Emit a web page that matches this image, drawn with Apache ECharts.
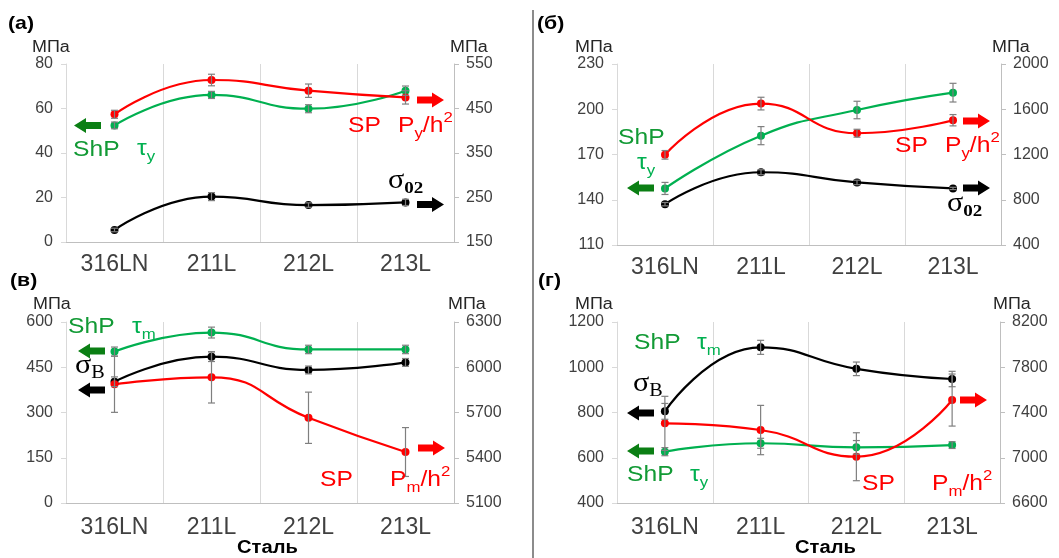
<!DOCTYPE html>
<html>
<head>
<meta charset="utf-8">
<script src="https://cdn.jsdelivr.net/npm/echarts@6/dist/echarts.min.js"></script>
<style>
  html, body { margin: 0; padding: 0; background: #fff; }
  #chart { width: 1059px; height: 558px; }
</style>
</head>
<body>
<div id="chart"></div>
<script>
// categories
const cats = ['316LN', '211L', '212L', '213L'];

// (а)  ShP tau_y (left), SP Py/h2 (right), sigma02 (right)
const tauY_a = [52.4, 66.1, 59.9, 68.0];
const tauY_a_err = [1.5, 1.6, 1.8, 2.1];
const pyH2_a = [437, 514, 490, 475];
const pyH2_a_err = [9, 13, 15, 15];
const sig02_a = [177, 252, 233, 239];
const sig02_a_err = [4, 9, 5, 7];
const ticksL_a = [0, 20, 40, 60, 80];
const ticksR_a = [150, 250, 350, 450, 550];

// (б)
const tauY_b = [147.5, 182.5, 199.5, 211];
const tauY_b_err = [4, 6, 5.8, 6.2];
const pyH2_b = [1197, 1650, 1388, 1503];
const pyH2_b_err = [38, 56, 35, 50];
const sig02_b = [761, 1043, 953, 900];
const sig02_b_err = [15, 22, 20, 10];
const ticksL_b = [110, 140, 170, 200, 230];
const ticksR_b = [400, 800, 1200, 1600, 2000];

// (в)  ShP tau_m (left), sigmaB (left), SP Pm/h2 (right)
const tauM_v = [502, 565, 509, 509];
const tauM_v_err = [15, 18, 14, 14];
const sigB_v = [402, 485, 441, 466];
const sigB_v_err = [16, 16, 13, 13];
const pmH2_v = [5887, 5933, 5665, 5438];
const pmH2_v_err = [186, 170, 170, 162];
const ticksL_v = [0, 150, 300, 450, 600];
const ticksR_v = [5100, 5400, 5700, 6000, 6300];

// (г)  sigmaB (left), ShP tau_y (left), SP Pm/h2 (right)
const sigB_g = [805, 1088, 993, 948];
const sigB_g_err = [35, 31, 30, 34];
const tauY_g = [627, 664, 646, 656];
const tauY_g_err = [18, 22, 30, 15];
const pmH2_g = [7304, 7245, 7009, 7510];
const pmH2_g_err = [239, 218, 212, 230];
const ticksL_g = [400, 600, 800, 1000, 1200];
const ticksR_g = [6600, 7000, 7400, 7800, 8200];

const GREEN = '#00b050', RED = '#ff0000', BLACK = '#000000';
const SHP = '#129a35', ARR_G = '#0b7f14';
const SANS = '"Liberation Sans", Arial, sans-serif';
const SERIF = '"Liberation Serif", "Times New Roman", serif';
const TXT = '#404040';

const panels = [
  { grid: { left: 66, top: 64, width: 388, height: 178 }, tl: ticksL_a, tr: ticksR_a,
    lines: [[tauY_a, tauY_a_err, 0, GREEN], [pyH2_a, pyH2_a_err, 1, RED], [sig02_a, sig02_a_err, 1, BLACK]] },
  { grid: { left: 617, top: 64, width: 384, height: 181 }, tl: ticksL_b, tr: ticksR_b,
    lines: [[tauY_b, tauY_b_err, 0, GREEN], [pyH2_b, pyH2_b_err, 1, RED], [sig02_b, sig02_b_err, 1, BLACK]] },
  { grid: { left: 66, top: 322, width: 388, height: 181 }, tl: ticksL_v, tr: ticksR_v,
    lines: [[tauM_v, tauM_v_err, 0, GREEN], [sigB_v, sigB_v_err, 0, BLACK], [pmH2_v, pmH2_v_err, 1, RED]] },
  { grid: { left: 617, top: 322, width: 383, height: 181 }, tl: ticksL_g, tr: ticksR_g,
    lines: [[sigB_g, sigB_g_err, 0, BLACK], [tauY_g, tauY_g_err, 0, GREEN], [pmH2_g, pmH2_g_err, 1, RED]] }
];

function errBar(params, api) {
  const i = api.value(0);
  const lo = api.coord([i, api.value(1)]);
  const hi = api.coord([i, api.value(2)]);
  const c = 3.5, st = { stroke: '#7f7f7f', lineWidth: 1.2 };
  return { type: 'group', children: [
    { type: 'line', shape: { x1: lo[0], y1: lo[1], x2: hi[0], y2: hi[1] }, style: st },
    { type: 'line', shape: { x1: lo[0] - c, y1: lo[1], x2: lo[0] + c, y2: lo[1] }, style: st },
    { type: 'line', shape: { x1: hi[0] - c, y1: hi[1], x2: hi[0] + c, y2: hi[1] }, style: st }
  ]};
}

const grids = [], xAxes = [], yAxes = [], series = [];
panels.forEach((p, k) => {
  grids.push(p.grid);
  xAxes.push({
    type: 'category', gridIndex: k, data: cats, boundaryGap: true,
    axisLine: { lineStyle: { color: '#bfbfbf' } },
    axisTick: { show: false },
    splitLine: { show: true, lineStyle: { color: '#d9d9d9' } },
    axisLabel: { fontSize: 23, color: TXT, fontFamily: SANS, margin: k < 2 ? 11 : 13 }
  });
  [p.tl, p.tr].forEach((t, side) => {
    yAxes.push({
      type: 'value', gridIndex: k, position: side ? 'right' : 'left',
      min: t[0], max: t[t.length - 1],
      axisLine: { show: true, lineStyle: { color: side ? '#bfbfbf' : '#d9d9d9' } },
      axisTick: { show: true, length: 5, customValues: t, lineStyle: { color: side ? '#bfbfbf' : '#d9d9d9' } },
      splitLine: { show: false },
      axisLabel: { fontSize: 16, color: TXT, fontFamily: SANS, margin: side ? 12 : 13, customValues: t,
        formatter: v => String(v) }
    });
  });
  p.lines.forEach(([vals, errs, side, color]) => {
    const yi = k * 2 + side;
    series.push({
      type: 'line', xAxisIndex: k, yAxisIndex: yi, data: vals,
      smooth: 0.5, symbol: 'circle', symbolSize: 8, z: 3,
      lineStyle: { color: color, width: 2.2 }, itemStyle: { color: color }
    });
    series.push({
      type: 'custom', xAxisIndex: k, yAxisIndex: yi, renderItem: errBar, z: 4,
      encode: { x: 0, y: [1, 2] },
      data: vals.map((v, i) => [i, v - errs[i], v + errs[i]])
    });
  });
});

// annotations
const SX = 1.12;
const mctx = document.createElement('canvas').getContext('2d');
function textW(t, font) { mctx.font = font; return mctx.measureText(t).width; }
function note(x, y, pieces) {
  const els = [];
  let cx = x;
  pieces.forEach(p => {
    const font = (p.w || 'normal') + ' ' + p.s + 'px ' + (p.f || SANS);
    els.push({ type: 'text', x: cx, y: y + (p.dy || 0), scaleX: SX, z: 10,
      style: { text: p.t, font: font, fill: p.c, textAlign: 'left', textVerticalAlign: 'middle', verticalAlign: 'middle' } });
    cx += textW(p.t, font) * SX;
  });
  return els;
}
function arrow(x, y, dir, color) {
  const L = 27, H = 12, hw = 7.5, sw = 3.4;
  let pts = [[0, -sw], [L - H, -sw], [L - H, -hw], [L, 0], [L - H, hw], [L - H, sw], [0, sw]];
  if (dir < 0) pts = pts.map(([a, b]) => [L - a, b]);
  return { type: 'polygon', z: 10, shape: { points: pts.map(([a, b]) => [x + a, y + b]) }, style: { fill: color } };
}
const big = (t, c) => ({ t: t, s: 22, c: c });
const sub = (t, c) => ({ t: t, s: 15, dy: 8, c: c });
const sup = (t, c) => ({ t: t, s: 15, dy: -8, c: c });
const shp = (x, y) => note(x, y, [big('ShP', SHP)]);
const tau = (x, y, s) => note(x, y, [big('τ', GREEN), sub(s, GREEN)]);
const sp = (x, y) => note(x, y, [big('SP', RED)]);
const ph = (x, y, s) => note(x, y, [big('P', RED), sub(s, RED), big('/h', RED), sup('2', RED)]);
const sig02 = (x, y) => note(x, y, [{ t: 'σ', s: 27, f: SERIF, c: BLACK }, { t: '02', s: 17, w: 'bold', f: SERIF, dy: 8, c: BLACK }]);
const sigB = (x, y) => note(x, y, [{ t: 'σ', s: 27, f: SERIF, c: BLACK }, { t: 'B', s: 18, f: SERIF, dy: 7, c: BLACK }]);
const plain = (x, y, t, s, w, c) => note(x, y, [{ t: t, s: s, w: w, c: c || '#000' }]);

const graphic = [].concat(
  [{ type: 'line', shape: { x1: 533, y1: 10, x2: 533, y2: 558 }, style: { stroke: '#8c8c8c', lineWidth: 2 } }],
  plain(8, 24, '(а)', 19, 'bold'), plain(537, 24, '(б)', 19, 'bold'),
  plain(10, 281, '(в)', 19, 'bold'), plain(538, 281, '(г)', 19, 'bold'),
  plain(32, 48, 'МПа', 16, 'normal', '#262626'), plain(450, 48, 'МПа', 16, 'normal', '#262626'),
  plain(575, 48, 'МПа', 16, 'normal', '#262626'), plain(992, 48, 'МПа', 16, 'normal', '#262626'),
  plain(33, 305, 'МПа', 16, 'normal', '#262626'), plain(448, 305, 'МПа', 16, 'normal', '#262626'),
  plain(575, 305, 'МПа', 16, 'normal', '#262626'), plain(993, 305, 'МПа', 16, 'normal', '#262626'),
  plain(237, 548, 'Сталь', 18, 'bold'), plain(795, 548, 'Сталь', 18, 'bold'),
  // (а)
  [arrow(74, 125.5, -1, ARR_G), arrow(417, 100, 1, RED), arrow(417, 204.5, 1, BLACK)],
  shp(73, 150), tau(137, 149, 'y'), sp(348, 126), ph(398, 126, 'y'), sig02(388, 181),
  // (б)
  [arrow(627, 188, -1, ARR_G), arrow(963, 121, 1, RED), arrow(963, 188, 1, BLACK)],
  shp(618, 138), tau(637, 163, 'y'), sp(895, 146), ph(945, 146, 'y'), sig02(947, 204),
  // (в)
  [arrow(78, 351, -1, ARR_G), arrow(78, 390, -1, BLACK), arrow(418, 448, 1, RED)],
  shp(68, 327), tau(132, 327, 'm'), sigB(75, 366), sp(320, 480), ph(390, 480, 'm'),
  // (г)
  [arrow(627, 413, -1, BLACK), arrow(627, 451, -1, ARR_G), arrow(960, 400, 1, RED)],
  shp(634, 343), tau(697, 343, 'm'), sigB(633, 384), shp(627, 475), tau(690, 475, 'y'),
  sp(862, 484), ph(932, 484, 'm')
);

const chart = echarts.init(document.getElementById('chart'), null, { renderer: 'canvas' });
chart.setOption({
  animation: false,
  backgroundColor: '#ffffff',
  textStyle: { fontFamily: SANS },
  grid: grids,
  xAxis: xAxes,
  yAxis: yAxes,
  series: series,
  graphic: graphic
});
</script>
</body>
</html>
